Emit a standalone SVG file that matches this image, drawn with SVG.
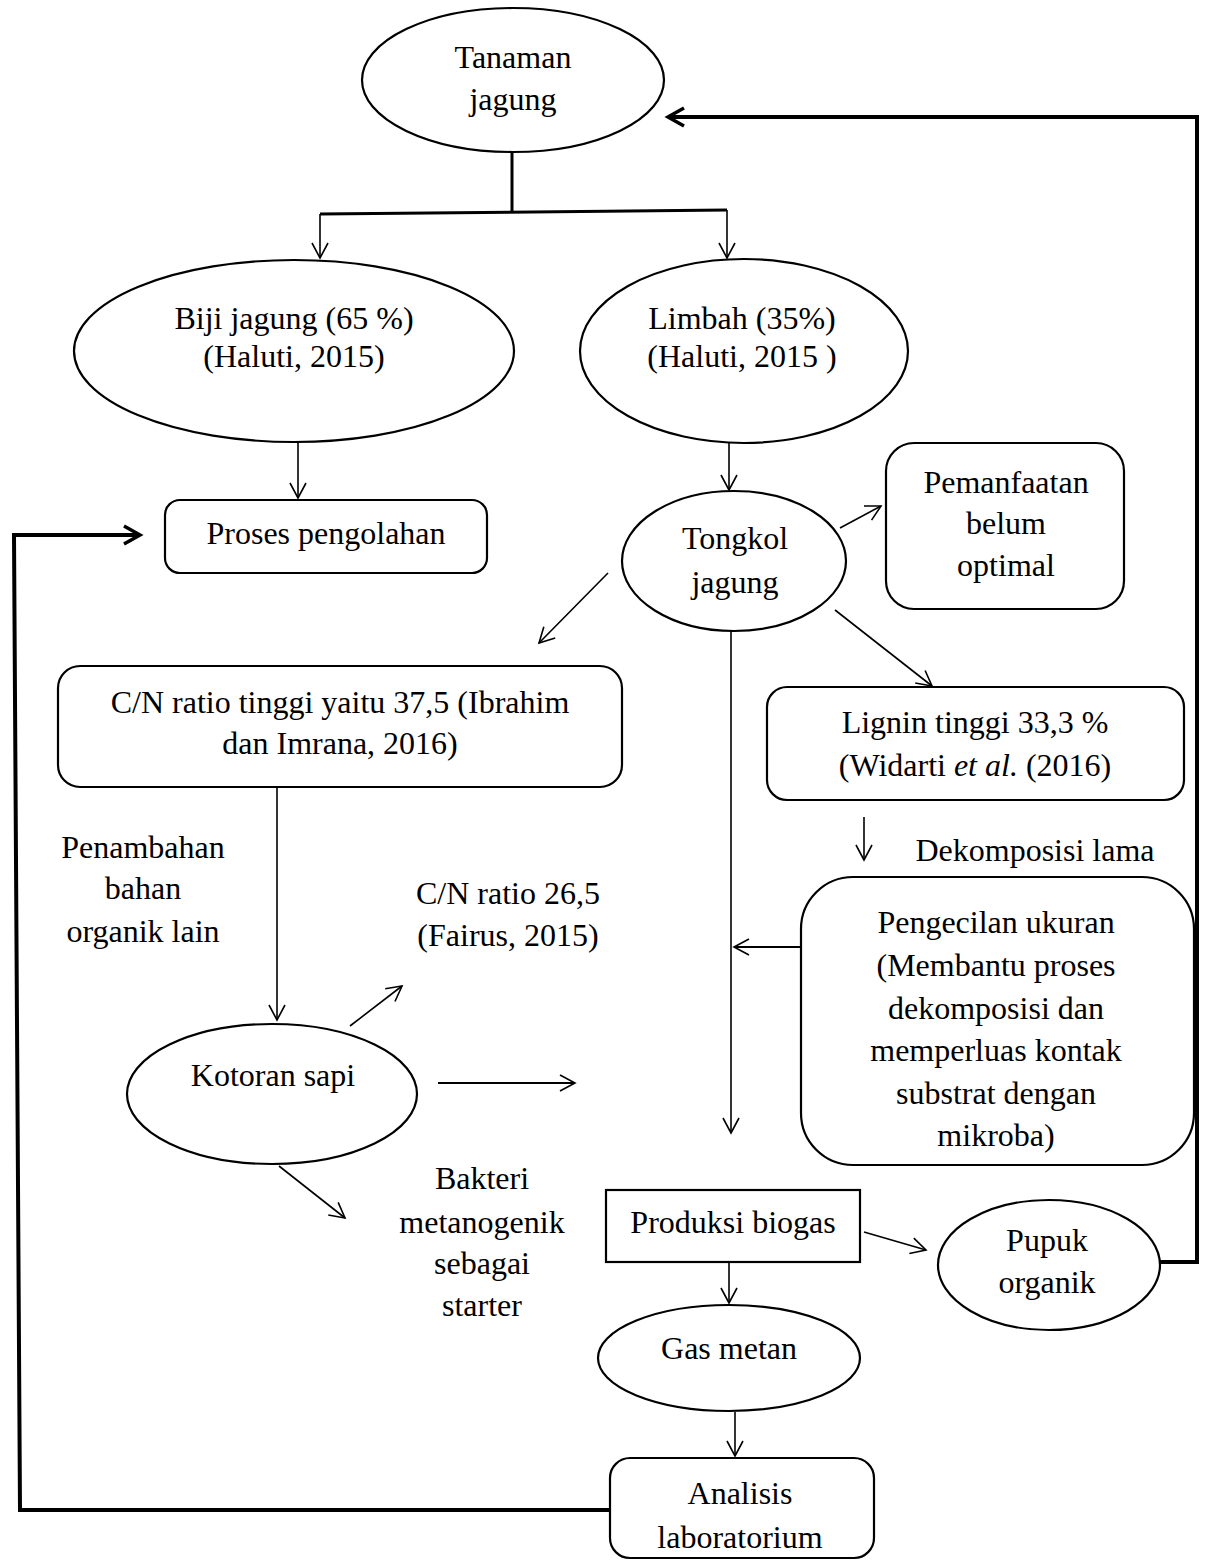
<svg xmlns="http://www.w3.org/2000/svg" width="1208" height="1561" viewBox="0 0 1208 1561">
<style>
.n{fill:#fff;stroke:#000;stroke-width:2.2}
.t{font-family:"Liberation Serif","Times New Roman",serif;font-size:32px;fill:#000;text-anchor:middle}
.c{fill:none;stroke:#000;stroke-width:1.6}
.k{fill:none;stroke:#000;stroke-width:4}
</style>
<defs>
<marker id="a" markerUnits="userSpaceOnUse" viewBox="0 0 20 20" markerWidth="20" markerHeight="20" refX="17" refY="10" orient="auto">
<path d="M2,2 L17,10 L2,18" fill="none" stroke="#000" stroke-width="1.6"/>
</marker>
<marker id="b" markerUnits="userSpaceOnUse" viewBox="0 0 24 24" markerWidth="24" markerHeight="24" refX="20" refY="12" orient="auto">
<path d="M4,3 L20,12 L4,21" fill="none" stroke="#000" stroke-width="3.5"/>
</marker>
</defs>
<g id="connectors">
<line class="c" x1="512" y1="152" x2="512" y2="212" style="stroke-width:3"/>
<line class="c" x1="320" y1="214" x2="727" y2="210" style="stroke-width:3"/>
<line class="c" x1="320" y1="214" x2="320" y2="258" marker-end="url(#a)"/>
<line class="c" x1="727" y1="210" x2="727" y2="258" marker-end="url(#a)"/>
<line class="c" x1="298" y1="442" x2="298" y2="498" marker-end="url(#a)"/>
<line class="c" x1="729" y1="443" x2="729" y2="490" marker-end="url(#a)"/>
<line class="c" x1="840" y1="528" x2="881" y2="506" marker-end="url(#a)"/>
<line class="c" x1="608" y1="573" x2="539" y2="643" marker-end="url(#a)"/>
<line class="c" x1="835" y1="610" x2="932" y2="686" marker-end="url(#a)"/>
<line class="c" x1="731" y1="631" x2="731" y2="1133" marker-end="url(#a)"/>
<line class="c" x1="277" y1="787" x2="277" y2="1020" marker-end="url(#a)"/>
<line class="c" x1="864" y1="817" x2="864" y2="860" marker-end="url(#a)"/>
<line class="c" x1="801" y1="947" x2="734" y2="947" style="stroke-width:2.2" marker-end="url(#a)"/>
<line class="c" x1="350" y1="1026" x2="402" y2="986" marker-end="url(#a)"/>
<line class="c" x1="438" y1="1083" x2="575" y2="1083" style="stroke-width:2.2" marker-end="url(#a)"/>
<line class="c" x1="279" y1="1166" x2="345" y2="1218" marker-end="url(#a)"/>
<line class="c" x1="864" y1="1232" x2="926" y2="1250" marker-end="url(#a)"/>
<line class="c" x1="729" y1="1262" x2="729" y2="1303" marker-end="url(#a)"/>
<line class="c" x1="735" y1="1412" x2="735" y2="1456" marker-end="url(#a)"/>
<polyline class="k" points="1160,1262 1197,1262 1197,117 668,117" marker-end="url(#b)"/>
<polyline class="k" points="610,1510 20,1510 14,535 140,535" marker-end="url(#b)"/>
</g>
<g id="tanaman">
<ellipse class="n" cx="513" cy="80" rx="151" ry="72"/>
<text class="t" x="513" y="68">Tanaman</text>
<text class="t" x="513" y="110">jagung</text>
</g>
<g id="biji">
<ellipse class="n" cx="294" cy="351" rx="220" ry="91"/>
<text class="t" x="294" y="329">Biji jagung (65 %)</text>
<text class="t" x="294" y="367">(Haluti, 2015)</text>
</g>
<g id="limbah">
<ellipse class="n" cx="744" cy="351" rx="164" ry="92"/>
<text class="t" x="742" y="329">Limbah (35%)</text>
<text class="t" x="742" y="367">(Haluti, 2015 )</text>
</g>
<g id="proses">
<rect class="n" x="165" y="500" width="322" height="73" rx="15"/>
<text class="t" x="326" y="544">Proses pengolahan</text>
</g>
<g id="tongkol">
<ellipse class="n" cx="734" cy="561" rx="112" ry="70"/>
<text class="t" x="735" y="549">Tongkol</text>
<text class="t" x="735" y="593">jagung</text>
</g>
<g id="pemanfaatan">
<rect class="n" x="886" y="443" width="238" height="166" rx="28"/>
<text class="t" x="1006" y="493">Pemanfaatan</text>
<text class="t" x="1006" y="534">belum</text>
<text class="t" x="1006" y="576">optimal</text>
</g>
<g id="cn">
<rect class="n" x="58" y="666" width="564" height="121" rx="22"/>
<text class="t" x="340" y="713">C/N ratio tinggi yaitu 37,5 (Ibrahim</text>
<text class="t" x="340" y="754">dan Imrana, 2016)</text>
</g>
<g id="lignin">
<rect class="n" x="767" y="687" width="417" height="113" rx="20"/>
<text class="t" x="975" y="733">Lignin tinggi 33,3 %</text>
<text class="t" x="975" y="776">(Widarti <tspan font-style="italic">et al.</tspan> (2016)</text>
</g>
<g id="penambahan">
<text class="t" x="143" y="858">Penambahan</text>
<text class="t" x="143" y="899">bahan</text>
<text class="t" x="143" y="942">organik lain</text>
</g>
<g id="dekomposisi">
<text class="t" x="1035" y="861">Dekomposisi lama</text>
</g>
<g id="cn26">
<text class="t" x="508" y="904">C/N ratio 26,5</text>
<text class="t" x="508" y="946">(Fairus, 2015)</text>
</g>
<g id="pengecilan">
<rect class="n" x="801" y="877" width="393" height="288" rx="52"/>
<text class="t" x="996" y="933">Pengecilan ukuran</text>
<text class="t" x="996" y="976">(Membantu proses</text>
<text class="t" x="996" y="1019">dekomposisi dan</text>
<text class="t" x="996" y="1061">memperluas kontak</text>
<text class="t" x="996" y="1104">substrat dengan</text>
<text class="t" x="996" y="1146">mikroba)</text>
</g>
<g id="kotoran">
<ellipse class="n" cx="272" cy="1094" rx="145" ry="70"/>
<text class="t" x="273" y="1086">Kotoran sapi</text>
</g>
<g id="bakteri">
<text class="t" x="482" y="1189">Bakteri</text>
<text class="t" x="482" y="1233">metanogenik</text>
<text class="t" x="482" y="1274">sebagai</text>
<text class="t" x="482" y="1316">starter</text>
</g>
<g id="produksi">
<rect class="n" x="606" y="1190" width="254" height="72"/>
<text class="t" x="733" y="1233">Produksi biogas</text>
</g>
<g id="pupuk">
<ellipse class="n" cx="1049" cy="1265" rx="111" ry="65"/>
<text class="t" x="1047" y="1251">Pupuk</text>
<text class="t" x="1047" y="1293">organik</text>
</g>
<g id="gas">
<ellipse class="n" cx="729" cy="1358" rx="131" ry="53"/>
<text class="t" x="729" y="1359">Gas metan</text>
</g>
<g id="analisis">
<rect class="n" x="610" y="1458" width="264" height="100" rx="20"/>
<text class="t" x="740" y="1504">Analisis</text>
<text class="t" x="740" y="1548">laboratorium</text>
</g>
</svg>
